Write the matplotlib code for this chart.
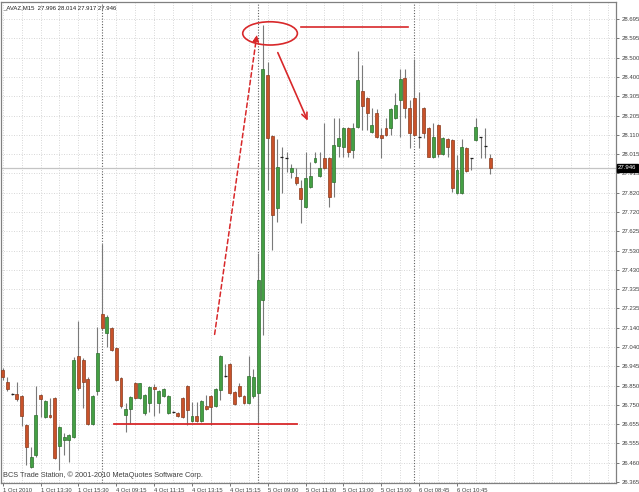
import numpy as np
import matplotlib
matplotlib.use("Agg")
import matplotlib.pyplot as plt
from matplotlib.patches import Ellipse

plt.rcParams['font.family'] = ['Liberation Sans', 'DejaVu Sans']

symbol_title = "_AVAZ,M15  27.996 28.014 27.917 27.946"
copyright_text = "BCS Trade Station, \u00a9 2001-2010 MetaQuotes Software Corp."

opens = [26.928, 26.868, 26.808, 26.808, 26.798, 26.652, 26.440, 26.501, 26.803, 26.692,
         26.702, 26.787, 26.546, 26.576, 26.576, 26.591, 26.999, 26.979, 26.883, 26.657,
         26.823, 27.210, 27.115, 27.140, 27.039, 26.888, 26.702, 26.732, 26.863, 26.787,
         26.712, 26.762, 26.843, 26.762, 26.798, 26.712, 26.717, 26.712, 26.787, 26.848,
         26.672, 26.697, 26.672, 26.747, 26.798, 26.747, 26.828, 26.898, 26.959, 26.818,
         26.848, 26.798, 26.762, 26.798, 26.813, 27.281, 28.413, 28.106, 27.744, 28.000,
         27.995, 27.925, 27.900, 27.844, 27.749, 27.849, 27.975, 27.905, 27.995, 27.995,
         27.875, 28.056, 28.051, 28.146, 28.036, 28.151, 28.333, 28.297, 28.126, 28.222,
         28.111, 28.146, 28.146, 28.197, 28.287, 28.398, 28.247, 28.297, 28.101, 28.247,
         28.146, 28.000, 28.162, 28.015, 28.091, 28.086, 27.819, 27.819, 28.046, 27.995,
         28.086, 28.101, 28.056, 27.996]
highs = [26.938, 26.893, 26.813, 26.868, 26.803, 26.657, 26.541, 26.848, 26.808, 26.777,
         26.787, 26.793, 26.647, 26.611, 26.606, 26.994, 27.175, 26.989, 26.893, 26.803,
         27.145, 27.563, 27.205, 27.145, 27.044, 26.893, 26.762, 26.798, 26.868, 26.863,
         26.808, 26.848, 26.858, 26.828, 26.838, 26.803, 26.722, 26.717, 26.793, 26.853,
         26.767, 26.767, 26.777, 26.803, 26.803, 26.838, 27.004, 26.959, 26.964, 26.823,
         26.863, 26.803, 26.999, 26.933, 27.517, 28.665, 28.479, 28.111, 28.091, 28.051,
         28.026, 27.965, 27.945, 27.885, 28.026, 27.975, 28.026, 28.026, 28.172, 28.000,
         28.197, 28.197, 28.151, 28.151, 28.172, 28.534, 28.463, 28.302, 28.247, 28.242,
         28.146, 28.197, 28.247, 28.323, 28.443, 28.443, 28.287, 28.494, 28.328, 28.252,
         28.151, 28.172, 28.167, 28.101, 28.096, 28.091, 28.010, 28.091, 28.051, 27.995,
         28.197, 28.101, 28.146, 28.014]
lows = [26.878, 26.823, 26.803, 26.772, 26.647, 26.450, 26.435, 26.491, 26.692, 26.687,
        26.687, 26.480, 26.425, 26.501, 26.465, 26.586, 26.828, 26.737, 26.652, 26.652,
        26.803, 27.130, 27.044, 27.024, 26.873, 26.737, 26.616, 26.657, 26.782, 26.782,
        26.702, 26.717, 26.697, 26.712, 26.793, 26.707, 26.712, 26.692, 26.687, 26.652,
        26.667, 26.667, 26.667, 26.727, 26.652, 26.742, 26.777, 26.893, 26.808, 26.752,
        26.793, 26.757, 26.757, 26.787, 26.657, 27.105, 27.834, 27.532, 27.673, 27.819,
        27.925, 27.895, 27.860, 27.668, 27.744, 27.844, 27.970, 27.900, 27.940, 27.749,
        27.799, 28.000, 28.000, 28.000, 27.995, 28.146, 28.136, 28.136, 28.121, 28.096,
        27.995, 28.106, 28.111, 28.192, 28.101, 28.197, 28.046, 28.106, 28.046, 28.096,
        28.000, 27.995, 28.000, 28.010, 28.000, 27.824, 27.814, 27.814, 27.925, 27.935,
        28.081, 27.995, 27.995, 27.917]
closes = [26.893, 26.833, 26.808, 26.782, 26.697, 26.541, 26.491, 26.702, 26.782, 26.772,
          26.692, 26.486, 26.642, 26.591, 26.601, 26.979, 26.838, 26.868, 26.657, 26.798,
          27.014, 27.140, 27.195, 27.029, 26.878, 26.747, 26.732, 26.793, 26.787, 26.863,
          26.803, 26.843, 26.833, 26.823, 26.833, 26.798, 26.717, 26.697, 26.692, 26.727,
          26.697, 26.672, 26.772, 26.732, 26.742, 26.833, 26.999, 26.898, 26.813, 26.757,
          26.798, 26.762, 26.898, 26.893, 27.381, 28.443, 28.096, 27.709, 27.950, 28.000,
          27.995, 27.945, 27.870, 27.789, 27.895, 27.905, 27.995, 27.945, 27.945, 27.799,
          28.061, 28.096, 28.146, 28.026, 28.146, 28.388, 28.257, 28.222, 28.162, 28.101,
          28.096, 28.111, 28.242, 28.262, 28.393, 28.247, 28.121, 28.111, 28.101, 28.121,
          28.000, 28.101, 28.015, 28.096, 28.051, 27.844, 27.935, 28.051, 27.930, 27.995,
          28.151, 28.101, 28.056, 27.946]

x_tick_bars = [0, 8, 16, 24, 32, 40, 48, 56, 64, 72, 80, 88, 96]
x_tick_labels = ["1 Oct 2010", "1 Oct 13:30", "1 Oct 15:30", "4 Oct 09:15", "4 Oct 11:15",
                 "4 Oct 13:15", "4 Oct 15:15", "5 Oct 09:00", "5 Oct 11:00", "5 Oct 13:00",
                 "5 Oct 15:00", "6 Oct 08:45", "6 Oct 10:45"]
day_separator_bars = [21, 54, 87]
y_tick_labels = ["26.365", "26.460", "26.555", "26.655", "26.750", "26.850", "26.945",
                 "27.040", "27.140", "27.235", "27.335", "27.430", "27.530", "27.625",
                 "27.720", "27.820", "27.915", "28.015", "28.110", "28.205", "28.305",
                 "28.400", "28.500", "28.595", "28.695"]
current_price = 27.946

W, H = 639, 492
fig = plt.figure(figsize=(W / 100, H / 100), dpi=100)
fig.patch.set_facecolor('white')
ax = fig.add_axes([1 / W, 1 - 482.6 / H, (616 - 1) / W, (482.6 - 2) / H])
ax.set_facecolor('white')
ax.set_xlim(-0.353, 129.6)
ax.set_ylim(26.362, 28.781)

# grid
ytick_pos = np.linspace(26.365, 28.695, len(y_tick_labels))
ax.set_yticks(ytick_pos)
ax.set_yticklabels(y_tick_labels)
ax.set_xticks(x_tick_bars)
ax.set_xticklabels(x_tick_labels)
ax.set_xticks(np.arange(0, 130, 4), minor=True)
grid_kw = dict(color='#d2d2d2', linestyle=(0, (1.2, 1.8)), linewidth=0.6)
ax.grid(True, which='both', axis='x', **grid_kw)
ax.grid(True, which='major', axis='y', **grid_kw)
ax.set_axisbelow(True)

for b in day_separator_bars:
    ax.axvline(b, color='#606060', linestyle=(0, (1, 1.5)), linewidth=0.8, zorder=1)
ax.axhline(current_price, color='#c4c4c4', linewidth=0.9, zorder=1)

# candles
x = np.arange(len(opens))
bw = 0.62
for i in x:
    o, h, l, c = opens[i], highs[i], lows[i], closes[i]
    ax.vlines(i, l, h, color='#7a7a7a', linewidth=0.8, zorder=2)
    if abs(c - o) < 0.003:
        ax.hlines(o, i - bw / 2, i + bw / 2, color='#202020', linewidth=0.9, zorder=3)
    elif c > o:
        ax.bar(i, c - o, bottom=o, width=bw, color='#44a044', edgecolor='#2d6e2d',
               linewidth=0.5, zorder=3)
    else:
        ax.bar(i, o - c, bottom=c, width=bw, color='#c9522a', edgecolor='#8a3b1d',
               linewidth=0.5, zorder=3)

# annotations (data coordinates)
red = '#d8282a'
ax.plot([23.6, 62.1], [26.655, 26.655], color=red, linewidth=1.3, zorder=4)
ax.plot([63.0, 85.6], [28.656, 28.656], color=red, linewidth=1.2, zorder=4)
ax.add_patch(Ellipse((56.5, 28.623), 11.55, 0.117, fill=False, edgecolor=red,
                     linewidth=1.2, zorder=4))
ax.annotate('', xy=(53.8, 28.631), xytext=(44.7, 27.094),
            arrowprops=dict(arrowstyle='-|>,head_length=0.4,head_width=0.18', color=red,
                            linewidth=1.1, linestyle=(0, (3, 2))), zorder=4)
ax.annotate('', xy=(64.7, 28.170), xytext=(57.9, 28.539),
            arrowprops=dict(arrowstyle='->,head_length=0.45,head_width=0.2', color=red,
                            linewidth=1.2), zorder=4)

# axes styling
for s in ['left', 'top', 'right', 'bottom']:
    ax.spines[s].set_color('#808080')
    ax.spines[s].set_linewidth(0.9)
ax.yaxis.tick_right()
ax.tick_params(axis='y', which='major', length=2.5, width=0.6, color='#606060',
               pad=1.5, labelsize=4.3, labelcolor='#404040')
ax.tick_params(axis='x', which='major', length=2.5, width=0.6, color='#606060',
               pad=1.5, labelsize=4.2, labelcolor='#404040')
ax.tick_params(axis='x', which='minor', length=0)
for lbl in ax.get_xticklabels():
    lbl.set_horizontalalignment('left')

# current price box
ax.text(1.0 + 2 / 615, current_price, "27.946", transform=ax.get_yaxis_transform(),
        fontsize=4.3, color='white', va='center', ha='left', zorder=6,
        bbox=dict(boxstyle='square,pad=0.25', facecolor='black', edgecolor='black'))

fig.text(3 / W, 1 - 8 / H, symbol_title, fontsize=4.3, color='#202020', va='center', ha='left')
fig.text(3 / W, 1 - 475 / H, copyright_text, fontsize=5.3, color='#404040', va='center', ha='left')

fig.savefig('out.png', dpi=100)
